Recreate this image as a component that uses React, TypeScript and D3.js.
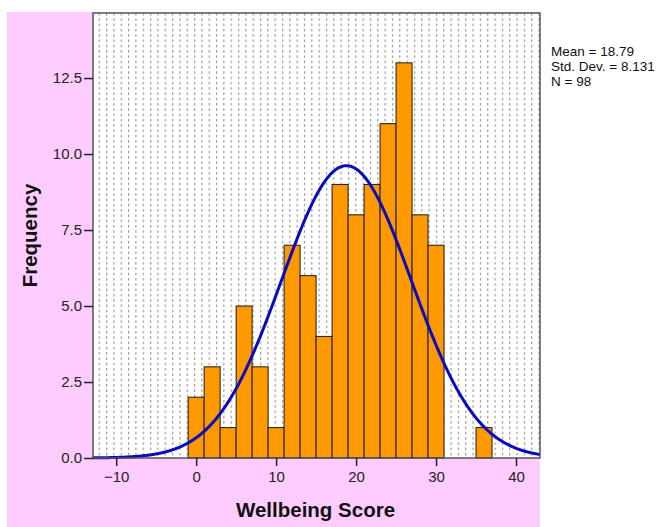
import { useEffect, useRef } from 'react';
import * as d3 from 'd3';

// Histogram bins (2-unit wide)
const binStarts = [-1, 1, 3, 5, 7, 9, 11, 13, 15, 17, 19, 21, 23, 25, 27, 29, 31, 33, 35];
const binCounts = [2, 3, 1, 5, 3, 1, 7, 6, 4, 9, 8, 9, 11, 13, 8, 7, 0, 0, 1];
const binWidth = 2;

const xTicks = [-10, 0, 10, 20, 30, 40];
const yTicks = [0, 2.5, 5, 7.5, 10, 12.5];

const mean = 18.79;
const sd = 8.131;
const n = 98;
const statLines = ['Mean = 18.79', 'Std. Dev. = 8.131', 'N = 98'];

const W = 667;
const H = 527;

function App() {
    const ref = useRef<SVGSVGElement>(null);

    const draw = () => {
        const svg = d3.select(ref.current);
        svg.selectAll('*').remove();

        const left = 93, right = 540, top = 13, bottom = 458;

        const x = d3.scaleLinear().domain([-12.9, 43]).range([left, right]);
        const y = d3.scaleLinear().domain([0, 14.64]).range([bottom, top]);

        // dotted fill pattern
        const defs = svg.append('defs');
        const pat = defs.append('pattern')
            .attr('id', 'dots')
            .attr('patternUnits', 'userSpaceOnUse')
            .attr('width', 7.33)
            .attr('height', 5.3)
            .attr('x', 106)
            .attr('y', top);
        pat.append('rect').attr('width', 7.33).attr('height', 5.3).attr('fill', '#fff');
        pat.append('rect').attr('x', 0).attr('y', 0).attr('width', 1.2).attr('height', 2.5).attr('fill', '#999');

        // pink backdrop
        svg.append('rect')
            .attr('x', 7).attr('y', 12)
            .attr('width', right - 7).attr('height', H - 12)
            .attr('fill', '#ffccff');

        // plot area
        svg.append('rect')
            .attr('x', left).attr('y', top)
            .attr('width', right - left).attr('height', bottom - top)
            .attr('fill', 'url(#dots)');

        // bars
        svg.append('g')
            .selectAll('rect')
            .data(binStarts.map((s, i) => ({ s, c: binCounts[i] })).filter(d => d.c > 0))
            .enter()
            .append('rect')
            .attr('x', d => x(d.s))
            .attr('y', d => y(d.c))
            .attr('width', d => x(d.s + binWidth) - x(d.s))
            .attr('height', d => y(0) - y(d.c))
            .attr('fill', '#ff9900')
            .attr('stroke', '#1a1a1a')
            .attr('stroke-width', 1);

        // normal curve
        const scale = n * binWidth / (sd * Math.sqrt(2 * Math.PI));
        const xs = d3.range(-12.9, 43.01, 0.1);
        const line = d3.line<number>()
            .x(v => x(v))
            .y(v => y(scale * Math.exp(-0.5 * ((v - mean) / sd) ** 2)))
            .curve(d3.curveBasis);
        svg.append('path')
            .datum(xs)
            .attr('d', line)
            .attr('fill', 'none')
            .attr('stroke', '#0a0ac0')
            .attr('stroke-width', 3);

        // frame
        svg.append('rect')
            .attr('x', left).attr('y', top)
            .attr('width', right - left).attr('height', bottom - top)
            .attr('fill', 'none')
            .attr('stroke', '#555')
            .attr('stroke-width', 1.5);

        const font = 'Arial, "Liberation Sans", sans-serif';

        // y axis
        const yAxis = svg.append('g')
            .attr('transform', `translate(${left},0)`)
            .call(d3.axisLeft(y).tickValues(yTicks).tickSize(9).tickPadding(2).tickFormat(d3.format('.1f')));
        yAxis.select('.domain').remove();
        yAxis.selectAll('line').attr('stroke', '#222').attr('stroke-width', 1.5);
        yAxis.selectAll('text').attr('font-family', font).attr('font-size', 15).attr('fill', '#222');

        // x axis
        const xAxis = svg.append('g')
            .attr('transform', `translate(0,${bottom})`)
            .call(d3.axisBottom(x).tickValues(xTicks).tickSize(8).tickPadding(5).tickFormat(d3.format('d')));
        xAxis.select('.domain').remove();
        xAxis.selectAll('line').attr('stroke', '#222').attr('stroke-width', 1.5);
        xAxis.selectAll('text').attr('font-family', font).attr('font-size', 15).attr('fill', '#222');

        // axis titles
        svg.append('text')
            .attr('x', 315.5)
            .attr('y', 517)
            .attr('text-anchor', 'middle')
            .attr('font-family', font)
            .attr('font-weight', 'bold')
            .attr('font-size', 20.5)
            .attr('fill', '#111')
            .text('Wellbeing Score');

        svg.append('text')
            .attr('transform', `translate(37,${(top + bottom) / 2}) rotate(-90)`)
            .attr('text-anchor', 'middle')
            .attr('font-family', font)
            .attr('font-weight', 'bold')
            .attr('font-size', 20.5)
            .attr('fill', '#111')
            .text('Frequency');

        // stats
        svg.append('g')
            .selectAll('text')
            .data(statLines)
            .enter()
            .append('text')
            .attr('x', 551)
            .attr('y', (d, i) => 56 + i * 15)
            .attr('font-family', font)
            .attr('font-size', 13.5)
            .attr('fill', '#111')
            .text(d => d);
    };

    useEffect(() => draw(), []);

    return (
        <svg ref={ref} width={W} height={H}
            style={{ position: 'absolute', left: 0, top: 0, background: '#fff' }} />
    );
}

export default App;
